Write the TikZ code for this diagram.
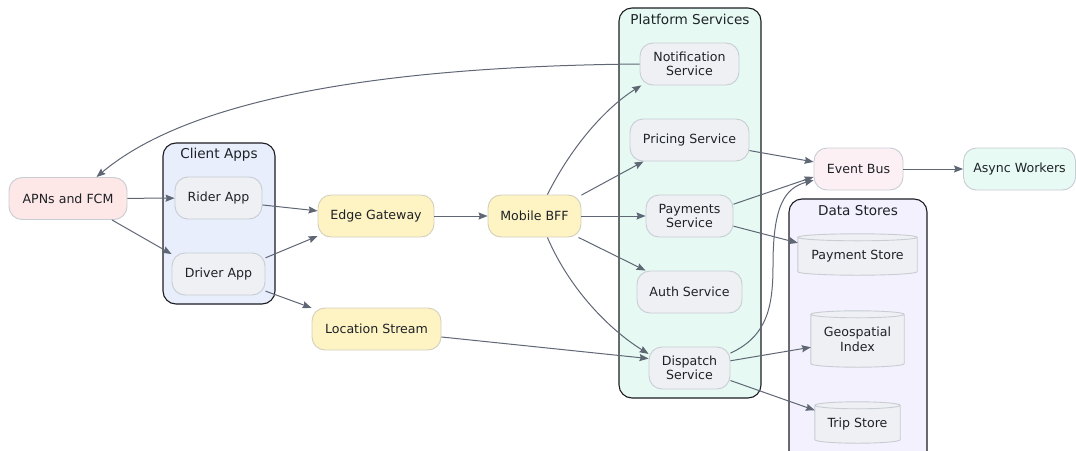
\documentclass[tikz,border=0pt]{standalone}
\usepackage{fontspec}
\setmainfont{DejaVu Sans}
\usetikzlibrary{arrows.meta,calc}

\definecolor{edgecol}{HTML}{5F6674}
\definecolor{txtcol}{HTML}{1E2227}
\definecolor{nodeline}{HTML}{C8CCD3}
\definecolor{grayfill}{HTML}{EEF0F4}
\definecolor{yellowfill}{HTML}{FEF3C3}
\definecolor{yellowline}{HTML}{D3CFBD}
\definecolor{pinkfill}{HTML}{FDE7E7}
\definecolor{busfill}{HTML}{FDF0F4}
\definecolor{mintfill}{HTML}{E7FAF3}
\definecolor{clientfill}{HTML}{E8EEFB}
\definecolor{platfill}{HTML}{E6FAF3}
\definecolor{storefill}{HTML}{F2F1FD}
\definecolor{clusterline}{HTML}{1B1D22}

\pgfdeclarelayer{groups}
\pgfdeclarelayer{cylinders}
\pgfsetlayers{groups,cylinders,main}

\tikzset{
  box/.style={rectangle, rounded corners=13pt, draw=nodeline, line width=0.9pt,
    fill=grayfill, minimum height=42pt, inner sep=0pt, align=center, text=txtcol,
    font=\fontsize{12.6}{14.5}\selectfont},
  ybox/.style={box, fill=yellowfill, draw=yellowline},
  cluster/.style={draw=clusterline, line width=1.1pt, rounded corners=13pt},
  clabel/.style={text=txtcol, font=\fontsize{13.6}{16}\selectfont},
  storebox/.style={rectangle, inner sep=0pt, align=center, text=txtcol,
    text depth=-2pt, font=\fontsize{12.6}{14.5}\selectfont},
  link/.style={draw=edgecol, line width=1pt,
    -{Stealth[length=9pt,width=7pt,inset=1.2pt]}},
}

% database cylinder drawn behind a named store node
\newcommand\dbcyl[1]{%
  \begin{pgfonlayer}{cylinders}
  \path let \p1=($(#1.east)-(#1.west)$) in
    [fill=grayfill, draw=nodeline, line width=0.9pt]
    ([yshift=-3.5pt]#1.north west) -- ([yshift=3.5pt]#1.south west)
    arc[start angle=180, end angle=360, x radius=0.5*\x1, y radius=3.5pt]
    -- ([yshift=-3.5pt]#1.north east)
    arc[start angle=0, end angle=180, x radius=0.5*\x1, y radius=3.5pt] -- cycle
    ([yshift=-3.5pt]#1.north west)
    arc[start angle=180, end angle=360, x radius=0.5*\x1, y radius=3.5pt];
  \end{pgfonlayer}}

\begin{document}
\begin{tikzpicture}[x=1pt, y=-1pt]
\useasboundingbox (0,0) rectangle (1076,450);

% groups
\begin{pgfonlayer}{groups}
\draw[cluster, fill=clientfill] (163,143) rectangle (275,304);
\draw[cluster, fill=platfill] (619,8) rectangle (761,398);
\draw[cluster, fill=storefill] (789,199) rectangle (927,470);
\end{pgfonlayer}
\node[clabel] (clientlbl) at (219,155) {Client Apps};
\node[clabel] (platlbl) at (690,19) {Platform Services};
\node[clabel] (storelbl) at (858,211) {Data Stores};

% nodes
\node[box, fill=pinkfill, minimum width=118pt] (apns) at (68,198.5) {APNs and FCM};
\node[box, minimum width=87pt] (rider) at (218.5,198) {Rider App};
\node[box, minimum width=93pt] (driver) at (218.5,274) {Driver App};
\node[ybox, minimum width=116pt] (edge) at (376,216) {Edge Gateway};
\node[ybox, minimum width=93pt] (bff) at (534.5,216) {Mobile BFF};
\node[ybox, minimum width=129pt] (loc) at (376.5,329) {Location Stream};

\node[box, minimum width=99pt] (notif) at (689.5,64) {Notification\\Service};
\node[box, minimum width=119pt] (pricing) at (689.5,140) {Pricing Service};
\node[box, minimum width=87pt] (payments) at (689.5,216) {Payments\\Service};
\node[box, minimum width=105pt] (auth) at (689.5,292) {Auth Service};
\node[box, minimum width=81pt] (dispatch) at (689.5,368) {Dispatch\\Service};

\node[box, fill=busfill, minimum width=89pt] (bus) at (858.5,169) {Event Bus};
\node[box, fill=mintfill, minimum width=112pt] (workers) at (1019.5,169) {Async Workers};

% data stores
\node[storebox, minimum width=119pt, minimum height=41pt] (paystore) at (857.5,254.5) {Payment Store};
\node[storebox, minimum width=93pt, minimum height=56pt] (geo) at (857.5,339) {Geospatial\\Index};
\node[storebox, minimum width=85pt, minimum height=41pt] (trip) at (857.5,422.5) {Trip Store};
\dbcyl{paystore}
\dbcyl{geo}
\dbcyl{trip}

% connectors
\draw[link] (notif.west) .. controls (420,66) and (200,90) .. (apns.37);
\draw[link] (apns) -- (rider);
\draw[link] (apns.-26) -- (driver.157);
\draw[link] (rider.-9) -- (edge.175);
\draw[link] (driver.19) -- (edge.199);
\draw[link] (driver.-20) -- (loc.162);
\draw[link] (edge) -- (bff);
\draw[link] (bff.59) .. controls (575,140) and (610,105) .. (notif.204);
\draw[link] (bff.24) -- (pricing.205);
\draw[link] (bff) -- (payments);
\draw[link] (bff.-26) -- (auth.154);
\draw[link] (bff.-59) .. controls (570,290) and (610,330) .. (dispatch.161);
\draw[link] (loc.-7) -- (dispatch.167);
\draw[link] (pricing.-10) -- (bus.171);
\draw[link] (payments.15) -- (bus.190);
\draw[link] (dispatch.20) .. controls (768,336) and (773,305) .. (773,265)
   .. controls (773,205) and (785,188) .. (bus.194);
\draw[link] (payments.-13) -- (paystore.169);
\draw[link] (dispatch.10) -- (geo.190);
\draw[link] (dispatch.-17) -- (trip.164);
\draw[link] (bus) -- (workers);
\end{tikzpicture}
\end{document}
